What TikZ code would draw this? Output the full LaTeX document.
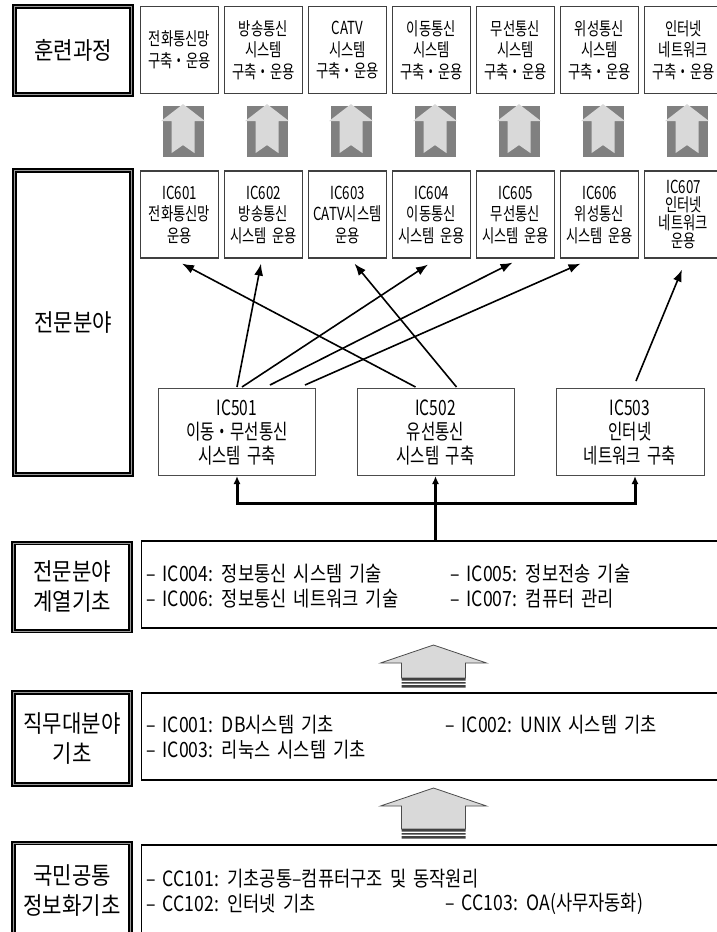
\documentclass[tikz,border=0pt]{standalone}
\usepackage{fontspec}
\setmainfont{Noto Sans CJK KR}[FakeStretch=0.74, WordSpace=1.8]
\newfontfamily\headfont{Noto Sans CJK KR}[FakeStretch=0.88]
\newfontfamily\itemfont{Noto Sans CJK KR}[FakeStretch=0.84, WordSpace=1.8]
\usetikzlibrary{arrows.meta}

\definecolor{framegray}{HTML}{404040}
\definecolor{shadegray}{HTML}{808080}
\definecolor{palegray}{HTML}{D9D9D9}

\tikzset{
  titlebox/.style={draw=black, line width=1.7pt, double=black!40, double distance=1pt,
    minimum width=117pt, inner sep=0pt, align=center,
    font=\headfont\fontsize{24}{30}\selectfont},
  coursebox/.style={draw=framegray, line width=1.2pt, minimum width=78pt,
    minimum height=87pt, inner sep=0pt, align=center,
    font=\fontsize{18}{21.5}\selectfont},
  unitbox/.style={draw=black!70, line width=1pt, minimum height=87pt,
    inner sep=0pt, align=center, font=\fontsize{21}{24}\selectfont},
  basebox/.style={draw=black, line width=1.4pt, minimum width=590pt,
    inner sep=0pt, anchor=west},
  itemtext/.style={anchor=west, inner sep=0pt, font=\itemfont\fontsize{21}{24}\selectfont},
  linkarrow/.style={line width=1.6pt, -{Latex[length=12pt,width=9pt]}},
  busline/.style={line width=3pt, -{Latex[length=8pt,width=7pt]}},
  blockarrow/.style={fill=palegray, draw=black!70, line width=0.8pt},
}

\begin{document}
\begin{tikzpicture}[x=1pt, y=-1pt, node distance=84pt]
    \path[use as bounding box, clip] (0,0) rectangle (717,932);

    % left column
    \node[titlebox, minimum height=88pt] (tcourse) at (73,50.5) {훈련과정};
    \node[titlebox, minimum height=304pt] (tfield) at (73,322.5) {전문분야};
    \node[titlebox, minimum height=88pt] (tbase1) at (72,587) {전문분야\\계열기초};
    \node[titlebox, minimum height=92pt] (tbase2) at (72,738.5) {직무대분야\\기초};
    \node[titlebox, minimum height=95pt] (tbase3) at (72,890.5) {국민공통\\정보화기초};

    % training courses
    \node[coursebox] (k1) at (179.5,50) {전화통신망\\구축・운용};
    \node[coursebox] (k2) [right of = k1] {방송통신\\시스템\\구축・운용};
    \node[coursebox] (k3) [right of = k2] {CATV\\시스템\\구축・운용};
    \node[coursebox] (k4) [right of = k3] {이동통신\\시스템\\구축・운용};
    \node[coursebox] (k5) [right of = k4] {무선통신\\시스템\\구축・운용};
    \node[coursebox] (k6) [right of = k5] {위성통신\\시스템\\구축・운용};
    \node[coursebox] (k7) [right of = k6] {인터넷\\네트워크\\구축・운용};

    % level 6 units
    \node[coursebox] (m1) at (179.5,214.5) {IC601\\전화통신망\\운용};
    \node[coursebox] (m2) [right of = m1] {IC602\\방송통신\\시스템 운용};
    \node[coursebox] (m3) [right of = m2] {IC603\\CATV시스템\\운용};
    \node[coursebox] (m4) [right of = m3] {IC604\\이동통신\\시스템 운용};
    \node[coursebox] (m5) [right of = m4] {IC605\\무선통신\\시스템 운용};
    \node[coursebox] (m6) [right of = m5] {IC606\\위성통신\\시스템 운용};
    \node[coursebox, font=\fontsize{18}{18}\selectfont] (m7) [right of = m6] {IC607\\인터넷\\네트워크\\운용};

    % level 5 units
    \node[unitbox, minimum width=157pt] (u1) at (237,432) {IC501\\이동・무선통신\\시스템 구축};
    \node[unitbox, minimum width=157pt] (u2) at (435.5,432) {IC502\\유선통신\\시스템 구축};
    \node[unitbox, minimum width=148pt] (u3) at (630,432) {IC503\\인터넷\\네트워크 구축};

    % basic rows
    \node[basebox, minimum height=87pt] (fb1) at (141,584.5) {};
    \node[basebox, minimum height=87pt] (fb2) at (141,736.5) {};
    \node[basebox, minimum height=95pt] (fb3) at (141,892.5) {};

    \node[itemtext] (i4) at (146,574) {– IC004: 정보통신 시스템 기술};
    \node[itemtext] (i5) at (450,574) {– IC005: 정보전송 기술};
    \node[itemtext] (i6) at (146,599) {– IC006: 정보통신 네트워크 기술};
    \node[itemtext] (i7) at (450,599) {– IC007: 컴퓨터 관리};
    \node[itemtext] (i1) at (146,725) {– IC001: DB시스템 기초};
    \node[itemtext] (i2) at (445,725) {– IC002: UNIX 시스템 기초};
    \node[itemtext] (i3) at (146,750) {– IC003: 리눅스 시스템 기초};
    \node[itemtext] (c1) at (146,879) {– CC101: 기초공통–컴퓨터구조 및 동작원리};
    \node[itemtext] (c2) at (146,904) {– CC102: 인터넷 기초};
    \node[itemtext] (c3) at (445,904) {– CC103: OA(사무자동화)};

    % gray arrows under the courses
    \foreach \n in {1,...,7}{
        \fill[shadegray] ([shift={(-17,12)}]k\n.south) rectangle ++(41,51);
        \fill[palegray] ([shift={(3.5,10)}]k\n.south) -- ++(22,17) -- ++(-10.5,0) -- ++(0,32)
            -- ++(-11.5,-8) -- ++(-11.5,8) -- ++(0,-32) -- ++(-10.5,0) -- cycle;
    }

    % links between units
    \path[draw, linkarrow] ([shift={(0,-1)}]u1.north) -- ([shift={(-2.5,5)}]m2.south);
    \path[draw, linkarrow] ([shift={(5,-1)}]u1.north) -- ([shift={(-3.5,6)}]m4.south);
    \path[draw, linkarrow] ([shift={(33,-3)}]u1.north) -- ([shift={(-3,4)}]m5.south);
    \path[draw, linkarrow] ([shift={(68,-3)}]u1.north) -- ([shift={(-19,5)}]m6.south);
    \path[draw, linkarrow] ([shift={(-20,-1)}]u2.north) -- ([shift={(2.5,5)}]m1.south);
    \path[draw, linkarrow] ([shift={(21,-1)}]u2.north) -- ([shift={(7,5)}]m3.south);
    \path[draw, linkarrow] ([shift={(6,-7)}]u3.north) -- ([shift={(-1.5,11)}]m7.south);

    % bus from the basic row
    \coordinate (jn) at (435.5,503);
    \path[draw, busline] (fb1.north -| u2.south) -- (u2.south);
    \path[draw, busline] (jn) -| (u1.south);
    \path[draw, busline] (jn) -| ([xshift=5pt]u3.south);

    % block arrows between rows
    \foreach \t/\b in {645/678, 788/829}{
        \draw[blockarrow] (433.5,\t) -- ++(53,18) -- ++(-21,0) |- (401.5,\b) |- (380.5,\t+18) -- cycle;
        \fill[black!75] (401.5,\b) rectangle ++(64,2.5) (401.5,\b+4) rectangle ++(64,1.5)
            (401.5,\b+7) rectangle ++(64,2.5);
    }
\end{tikzpicture}
\end{document}
